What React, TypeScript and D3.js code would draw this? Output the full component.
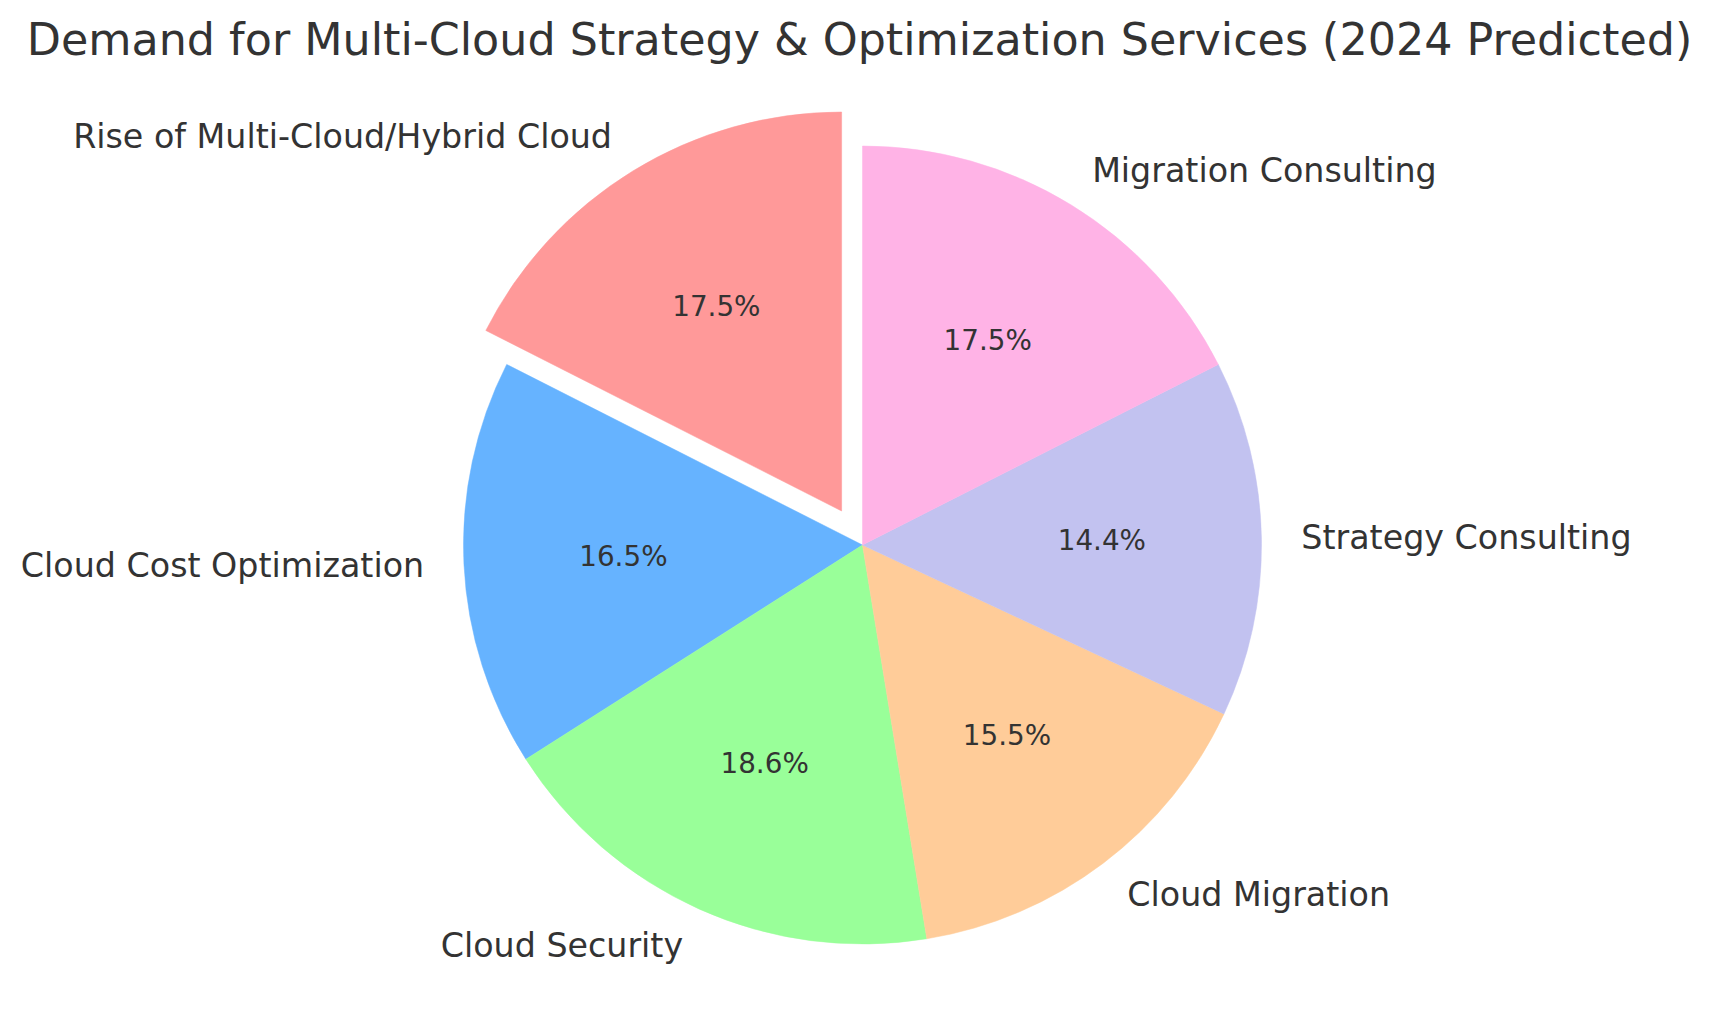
import React from "react";
import * as d3 from "d3";

const title = "Demand for Multi-Cloud Strategy & Optimization Services (2024 Predicted)";
const categories = [
  "Rise of Multi-Cloud/Hybrid Cloud",
  "Cloud Cost Optimization",
  "Cloud Security",
  "Cloud Migration",
  "Strategy Consulting",
  "Migration Consulting",
];
const values = [85, 80, 90, 75, 70, 85];
const colors = ["#ff9999", "#66b3ff", "#99ff99", "#ffcc99", "#c2c2f0", "#ffb3e6"];
const explode = [0.1, 0, 0, 0, 0, 0];

const W = 1716;
const H = 1014;
const CX = 862.5;
const CY = 545;
const R = 399;
const FONT = "'DejaVu Sans', sans-serif";
const TEXT = "#333333";

export default function App() {
  const total = d3.sum(values);
  const pie = d3
    .pie<number>()
    .sort(null)
    .value((d) => d)
    .startAngle(0)
    .endAngle(-2 * Math.PI);
  const arcs = pie(values);
  const arcGen = d3.arc<d3.PieArcDatum<number>>().innerRadius(0).outerRadius(R);
  const fmt = d3.format(".1f");

  return (
    <svg
      width={W}
      height={H}
      viewBox={`0 0 ${W} ${H}`}
      style={{ position: "absolute", left: 0, top: 0, background: "#ffffff" }}
    >
      <rect x={0} y={0} width={W} height={H} fill="#ffffff" />
      <text
        x={CX - 3}
        y={54.5}
        textAnchor="middle"
        fontFamily={FONT}
        fontSize={44.4}
        fill={TEXT}
      >
        {title}
      </text>
      <g transform={`translate(${CX},${CY})`}>
        {arcs.map((a, i) => {
          const mid = (a.startAngle + a.endAngle) / 2;
          const ux = Math.sin(mid);
          const uy = -Math.cos(mid);
          const ox = ux * explode[i] * R;
          const oy = uy * explode[i] * R;
          const lx = ox + ux * 1.1 * R;
          const ly = oy + uy * 1.1 * R;
          const px = ox + ux * 0.6 * R;
          const py = oy + uy * 0.6 * R;
          return (
            <g key={categories[i]}>
              <path
                d={arcGen(a) || ""}
                transform={`translate(${ox},${oy})`}
                fill={colors[i]}
                stroke={colors[i]}
                strokeWidth={0.5}
              />
              <text
                x={lx}
                y={ly}
                dy="0.33em"
                textAnchor={lx > 0 ? "start" : "end"}
                fontFamily={FONT}
                fontSize={33.3}
                fill={TEXT}
              >
                {categories[i]}
              </text>
              <text
                x={px}
                y={py}
                dy="0.33em"
                textAnchor="middle"
                fontFamily={FONT}
                fontSize={27.8}
                fill={TEXT}
              >
                {fmt((values[i] / total) * 100) + "%"}
              </text>
            </g>
          );
        })}
      </g>
    </svg>
  );
}
